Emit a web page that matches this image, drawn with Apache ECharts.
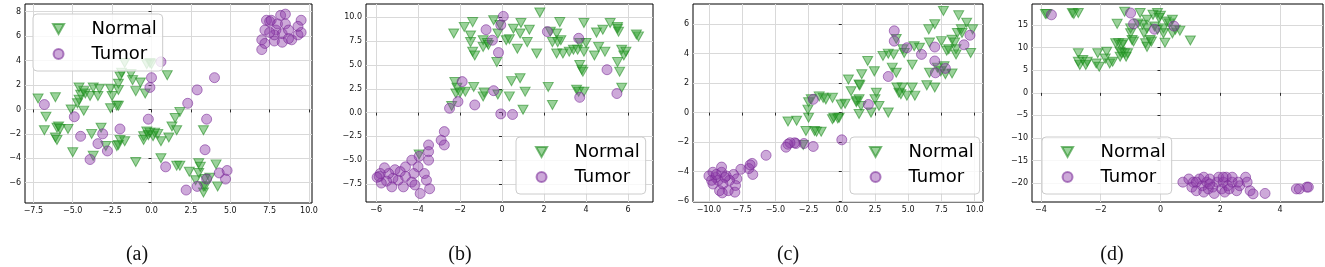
<!DOCTYPE html>
<html>
<head>
<meta charset="utf-8">
<script src="https://cdn.jsdelivr.net/npm/echarts@6/dist/echarts.min.js"></script>
<style>
  html, body { margin: 0; padding: 0; background: #fff; }
  #main { width: 1325px; height: 267px; }
</style>
</head>
<body>
<div id="main"></div>
<script>
// panel (a)
var normalA = [[-7.2,0.9],[-6.1,1.0],[-6.7,-0.6],[-6.8,-1.7],[-6.0,-1.5],[-5.9,-1.4],[-5.8,-1.6],[-6.1,-2.3],[-6.0,-2.5],[-5.3,-1.6],[-5.1,0.0],[-5.0,-3.5],[-4.7,0.5],[-4.6,0.8],[-4.5,1.2],[-4.6,1.8],[-4.3,1.5],[-4.3,-0.1],[-4.2,1.3],[-3.9,1.1],[-3.8,-2.0],[-3.7,-3.8],[-3.7,1.8],[-3.4,1.1],[-3.3,1.7],[-3.2,-1.5],[-2.9,-3.0],[-2.6,0.1],[-2.5,1.1],[-2.6,1.7],[-2.2,0.3],[-2.1,0.3],[-2.1,2.1],[-2.1,1.6],[-2.2,-3.0],[-2.1,-2.9],[-2.0,-2.5],[-1.7,-2.6],[-2.0,2.7],[-1.9,3.0],[-1.7,3.8],[-1.3,2.9],[-1.2,2.4],[-1.0,1.5],[-1.0,-4.3],[-0.7,2.2],[-0.5,-2.2],[-0.5,-2.5],[-0.4,1.3],[-0.3,3.7],[-0.1,3.8],[0.0,3.7],[-0.3,-1.8],[-0.2,-2.1],[-0.1,-1.9],[0.1,-2.2],[0.2,-1.9],[0.4,-2.0],[0.6,-2.6],[0.6,-4.0],[1.0,2.8],[1.1,-2.3],[1.3,-1.4],[1.5,-0.7],[1.6,-1.7],[1.8,-0.2],[1.6,-4.6],[1.8,-4.6],[2.4,-5.1],[2.8,-5.8],[3.0,-4.4],[3.0,-5.2],[3.1,-4.7],[3.3,-6.3],[3.3,-6.8],[3.4,-6.3],[3.3,-1.7],[3.4,-5.7],[3.7,-5.6],[4.1,-4.5],[4.2,-6.3]];
var tumorA = [[-6.8,0.4],[-4.9,-0.6],[-4.5,-2.2],[-3.9,-4.1],[-3.4,-2.8],[-3.1,-2.0],[-2.8,-3.4],[-2.0,-1.6],[-0.2,-0.8],[0.0,2.6],[-0.1,1.8],[0.6,3.9],[0.9,-4.7],[2.3,0.5],[2.2,-6.6],[2.9,1.6],[2.9,-6.3],[3.5,-0.8],[3.4,-3.3],[3.5,-5.7],[4.0,2.6],[4.3,-5.2],[4.8,-5.0],[4.7,-5.7],[7.0,4.9],[7.0,5.7],[7.2,5.4],[7.2,6.5],[7.3,7.3],[7.5,7.2],[7.6,7.3],[7.8,5.6],[7.9,6.5],[8.0,7.0],[8.2,7.7],[8.5,7.8],[8.3,5.5],[8.3,6.2],[8.5,7.0],[8.7,6.5],[8.9,5.7],[9.3,6.1],[9.5,7.3],[9.5,6.3],[9.3,6.8],[7.8,6.1],[8.7,5.8],[7.5,6.3]];
// panel (b)
var normalB = [[-2.3,8.3],[-1.8,9.0],[-1.4,9.5],[-1.5,8.1],[-1.5,7.4],[-1.4,6.4],[-1.3,6.0],[-0.9,7.6],[-0.9,6.9],[-0.7,7.3],[-0.65,7.1],[-0.4,9.7],[-0.2,8.3],[-0.25,5.3],[-0.1,9.2],[0.2,7.6],[0.35,7.7],[0.54,8.8],[0.73,6.7],[0.86,8.3],[0.9,9.4],[1.2,7.4],[1.3,8.7],[1.65,6.2],[1.8,10.5],[2.3,8.5],[2.4,7.4],[2.6,8.3],[2.65,7.4],[2.75,9.5],[2.8,7.6],[2.6,6.2],[2.9,6.2],[3.2,6.4],[3.4,6.6],[3.6,6.6],[3.9,6.4],[3.7,7.3],[4.0,7.3],[3.9,9.4],[4.4,6.0],[4.5,8.4],[4.6,6.9],[4.8,8.7],[4.9,6.4],[5.15,9.4],[5.5,9.0],[5.55,8.5],[5.5,8.8],[5.5,5.3],[5.6,4.3],[5.7,6.6],[5.8,6.0],[5.9,6.4],[6.5,8.0],[6.4,8.2],[3.7,5.0],[3.8,4.5],[3.85,4.3],[5.7,2.6],[-2.25,3.2],[-2.15,2.6],[-2.2,2.0],[-2.0,2.1],[-2.4,0.7],[-1.75,2.2],[-1.35,2.7],[-0.9,1.7],[-0.85,2.1],[-0.2,1.9],[0.35,1.7],[0.45,3.3],[0.86,3.6],[1.0,0.3],[1.1,2.2],[2.2,2.7],[2.4,0.8],[3.55,2.4],[3.65,2.2],[3.9,2.2],[-3.95,-4.4]];
var tumorB = [[0.06,10.1],[-0.06,9.2],[-0.76,8.7],[-0.46,7.6],[-0.17,6.3],[2.16,8.5],[3.65,7.8],[5.0,4.5],[5.47,2.0],[3.7,1.6],[-0.4,2.3],[-0.06,-0.14],[0.5,-0.2],[-1.3,0.8],[-2.1,1.15],[-1.9,3.25],[-2.5,0.45],[-2.75,-2.0],[-2.9,-2.9],[-2.75,-3.4],[-3.5,-3.4],[-3.5,-4.1],[-3.5,-5.0],[-3.45,-8.0],[-3.6,-7.1],[-3.9,-8.5],[-4.0,-5.7],[-3.95,-4.6],[-3.7,-6.4],[-4.3,-5.0],[-4.2,-6.4],[-4.3,-7.3],[-4.15,-7.6],[-4.6,-5.7],[-4.6,-6.7],[-4.7,-7.8],[-4.85,-6.2],[-4.95,-7.1],[-5.1,-6.0],[-5.2,-6.9],[-5.25,-7.8],[-5.4,-6.4],[-5.5,-7.2],[-5.6,-5.8],[-5.75,-7.4],[-5.8,-6.4],[-5.85,-6.7],[-5.95,-6.8]];
// panel (c)
var normalC = [[-4.05,-0.6],[-3.4,-0.55],[-2.7,-1.25],[-2.55,0.2],[-2.5,0.7],[-2.5,-0.35],[-2.9,-2.2],[-2.05,-1.25],[-1.9,-1.3],[-1.55,-1.3],[-2.3,0.9],[-1.7,1.1],[-1.4,1.0],[-1.2,0.9],[-0.7,1.0],[-0.7,-0.45],[-0.6,-0.35],[-0.3,-0.4],[-0.2,-0.35],[-0.05,0.55],[0.25,0.6],[0.5,2.25],[0.7,1.45],[1.1,0.8],[1.1,0.7],[1.3,0.9],[1.45,0.45],[1.3,1.9],[1.5,2.6],[1.35,1.85],[1.3,-0.1],[1.95,3.5],[2.2,0.0],[2.45,2.8],[2.6,1.35],[2.5,0.9],[2.8,0.45],[3.1,3.85],[3.5,4.0],[3.5,0.0],[3.8,3.05],[4.1,2.7],[3.9,3.95],[4.1,5.0],[4.15,1.7],[4.3,1.35],[4.45,1.25],[4.55,1.7],[4.6,4.3],[4.7,4.05],[4.9,1.15],[5.3,3.25],[5.3,1.7],[5.5,1.15],[5.45,4.5],[5.85,4.4],[6.4,1.85],[6.6,2.7],[6.55,5.65],[6.6,4.75],[7.0,6.0],[7.0,1.7],[7.5,4.85],[7.65,6.9],[7.2,3.05],[7.45,2.8],[7.7,3.15],[7.8,2.6],[7.9,4.2],[8.05,4.3],[8.3,2.65],[8.3,4.95],[8.6,4.3],[8.6,3.95],[8.8,6.6],[8.7,5.4],[9.05,5.4],[9.0,5.65],[9.4,6.1],[9.7,4.05],[9.85,5.65],[8.5,4.75]];
var tumorC = [[3.95,5.55],[3.95,4.85],[4.9,4.4],[6.0,3.95],[7.0,4.45],[7.0,3.5],[7.05,2.7],[7.8,3.0],[9.2,4.6],[9.65,5.25],[3.5,2.45],[2.0,0.55],[0.0,-1.85],[-2.15,0.9],[-2.15,-2.3],[-2.85,-2.1],[-3.45,-2.1],[-3.55,-2.05],[-3.9,-2.05],[-4.05,-2.15],[-4.2,-2.35],[-5.7,-2.9],[-6.75,-3.45],[-6.7,-4.2],[-7.0,-3.8],[-6.9,-3.55],[-7.6,-3.85],[-8.15,-4.2],[-7.9,-4.5],[-8.0,-4.95],[-8.05,-5.4],[-8.45,-4.6],[-8.55,-5.3],[-8.7,-4.3],[-8.95,-4.85],[-9.05,-4.05],[-9.2,-5.3],[-9.3,-4.6],[-9.5,-4.4],[-9.7,-4.85],[-9.7,-4.05],[-9.8,-4.6],[-10.0,-4.3],[-9.05,-3.7],[-8.8,-4.4],[-9.45,-4.2],[-9.0,-5.45]];
// panel (d)
var normalD = [[-3.85,17.5],[-3.8,17.5],[-2.95,17.7],[-2.9,17.5],[-2.75,17.7],[-2.75,8.8],[-2.7,6.2],[-2.6,7.3],[-2.45,6.9],[-2.75,6.9],[-2.5,6.2],[-2.1,8.8],[-2.15,6.5],[-2.05,5.8],[-1.85,7.6],[-1.8,9.1],[-1.7,6.5],[-1.6,6.9],[-1.45,15.3],[-1.5,11.0],[-1.4,11.0],[-1.3,10.6],[-1.25,11.0],[-1.35,9.1],[-1.3,8.8],[-1.2,8.8],[-1.1,8.8],[-1.15,8.0],[-1.35,8.0],[-1.2,18.0],[-1.0,13.2],[-0.95,11.7],[-0.9,11.4],[-1.0,14.3],[-0.68,17.7],[-0.6,15.1],[-0.55,13.2],[-0.45,14.3],[-0.5,11.0],[-0.45,10.2],[-0.35,11.7],[-0.3,11.4],[-0.25,17.3],[-0.1,17.7],[-0.05,16.6],[0.0,17.1],[-0.2,14.7],[-0.1,14.0],[0.1,14.3],[0.1,13.2],[0.15,11.1],[0.2,15.8],[0.3,15.4],[0.4,16.2],[0.4,13.2],[0.5,14.0],[0.65,13.8],[1.0,11.6],[-0.75,15.4],[-0.45,16.2]];
var tumorD = [[-3.65,17.3],[-1.0,17.7],[-0.9,15.3],[-0.2,14.1],[0.45,14.8],[0.75,-19.8],[0.95,-19.1],[1.05,-20.9],[1.1,-19.8],[1.2,-21.7],[1.3,-19.1],[1.4,-20.6],[1.45,-22.0],[1.55,-19.8],[1.6,-21.3],[1.65,-19.1],[1.75,-20.9],[1.8,-22.3],[1.9,-19.8],[1.95,-18.7],[2.05,-21.3],[2.1,-19.8],[2.15,-22.0],[2.2,-18.7],[2.25,-20.6],[2.3,-21.3],[2.4,-19.8],[2.55,-21.7],[2.65,-20.6],[2.85,-18.7],[2.9,-19.8],[3.0,-21.7],[3.1,-22.4],[3.5,-22.3],[4.55,-21.3],[4.65,-21.3],[4.9,-20.9],[4.95,-20.9],[1.2,-19.8],[1.45,-18.7],[1.65,-20.2],[2.1,-18.7],[2.4,-18.7],[2.6,-19.8]];

// tick labels
var xTicksA = [-7.5, -5, -2.5, 0, 2.5, 5, 7.5, 10];
var yTicksA = [-6, -4, -2, 0, 2, 4, 6, 8];
var xTicksB = [-6, -4, -2, 0, 2, 4, 6];
var yTicksB = [-7.5, -5, -2.5, 0, 2.5, 5, 7.5, 10];
var xTicksC = [-10, -7.5, -5, -2.5, 0, 2.5, 5, 7.5, 10];
var yTicksC = [-6, -4, -2, 0, 2, 4, 6];
var xTicksD = [-4, -2, 0, 2, 4];
var yTicksD = [-20, -15, -10, -5, 0, 5, 10, 15];

var panelLabels = ['(a)', '(b)', '(c)', '(d)'];

var panels = [
  { normal: normalA, tumor: tumorA, xt: xTicksA, yt: yTicksA, xd: 1, yd: 0,
    x: [-8.03, 10.19], y: [-7.66, 8.63], grid: [25, 4, 287, 199], legend: [33, 14], lab: 132 },
  { normal: normalB, tumor: tumorB, xt: xTicksB, yt: yTicksB, xd: 0, yd: 1,
    x: [-6.48, 7.19], y: [-9.39, 11.4], grid: [366, 4, 287, 198], legend: [516, 137], lab: 455 },
  { normal: normalC, tumor: tumorC, xt: xTicksC, yt: yTicksC, xd: 1, yd: 0,
    x: [-11.2, 10.63], y: [-6.07, 7.37], grid: [693, 4, 290, 198], legend: [850, 137], lab: 783 },
  { normal: normalD, tumor: tumorD, xt: xTicksD, yt: yTicksD, xd: 0, yd: 0,
    x: [-4.3, 5.44], y: [-24.2, 19.7], grid: [1032, 4, 291, 198], legend: [1042, 137], lab: 1107 }
];

var triPath = 'path://M0,0 L10,0 L5,9 Z';
var greenFill = 'rgba(44,160,44,0.6)';
var greenEdge = 'rgba(34,140,34,0.75)';
var purpleFill = 'rgba(142,60,168,0.55)';
var purpleEdge = 'rgba(120,40,150,0.7)';

function fmt(d) {
  return function (v) {
    return v.toFixed(d).replace('-', '\u2212');
  };
}

function makeAxis(i, ticks, range, dec) {
  return {
    type: 'value',
    gridIndex: i,
    min: range[0],
    max: range[1],
    axisLine: { show: false },
    axisTick: { show: true, inside: false, length: 3, customValues: ticks,
      lineStyle: { color: '#000', width: 0.8 } },
    axisLabel: { customValues: ticks, formatter: fmt(dec), fontSize: 8,
      fontFamily: 'DejaVu Sans', color: '#111', margin: 4 },
    splitLine: { show: true, lineStyle: { color: '#d9d9d9', width: 1 } }
  };
}

var grids = [], xAxes = [], yAxes = [], series = [], legends = [], titles = [];

panels.forEach(function (p, i) {
  grids.push({
    left: p.grid[0], top: p.grid[1], width: p.grid[2], height: p.grid[3],
    show: true, borderColor: '#000', borderWidth: 1, backgroundColor: 'transparent'
  });
  xAxes.push(makeAxis(i, p.xt, p.x, p.xd));
  yAxes.push(makeAxis(i, p.yt, p.y, p.yd));
  series.push({
    name: 'Normal', type: 'scatter', xAxisIndex: i, yAxisIndex: i,
    symbol: triPath, symbolSize: [10, 9], data: p.normal,
    itemStyle: { color: greenFill, borderColor: greenEdge, borderWidth: 1 }
  });
  series.push({
    name: 'Tumor', type: 'scatter', xAxisIndex: i, yAxisIndex: i,
    symbol: 'circle', symbolSize: 10, data: p.tumor,
    itemStyle: { color: purpleFill, borderColor: purpleEdge, borderWidth: 1 }
  });
  legends.push({
    left: p.legend[0], top: p.legend[1], orient: 'vertical',
    data: [{ name: 'Normal', icon: triPath }, { name: 'Tumor', icon: 'circle' }],
    itemWidth: 34, itemHeight: 10, itemGap: 7,
    padding: [6, 6, 8, 19],
    backgroundColor: 'rgba(255,255,255,0.8)', borderColor: '#cccccc', borderWidth: 1, borderRadius: 4,
    textStyle: { fontFamily: 'DejaVu Sans', fontSize: 18, color: '#000', lineHeight: 18, padding: [0, 0, 0, 11] },
    selectedMode: false
  });
  titles.push({
    text: panelLabels[i], left: p.lab, top: 240, textAlign: 'center',
    textStyle: { fontFamily: 'Liberation Serif', fontSize: 20, fontWeight: 'normal', color: '#111' }
  });
});

var chart = echarts.init(document.getElementById('main'), null, { renderer: 'canvas' });
chart.setOption({
  animation: false,
  backgroundColor: '#fff',
  title: titles,
  grid: grids,
  xAxis: xAxes,
  yAxis: yAxes,
  legend: legends,
  series: series
});
</script>
</body>
</html>
